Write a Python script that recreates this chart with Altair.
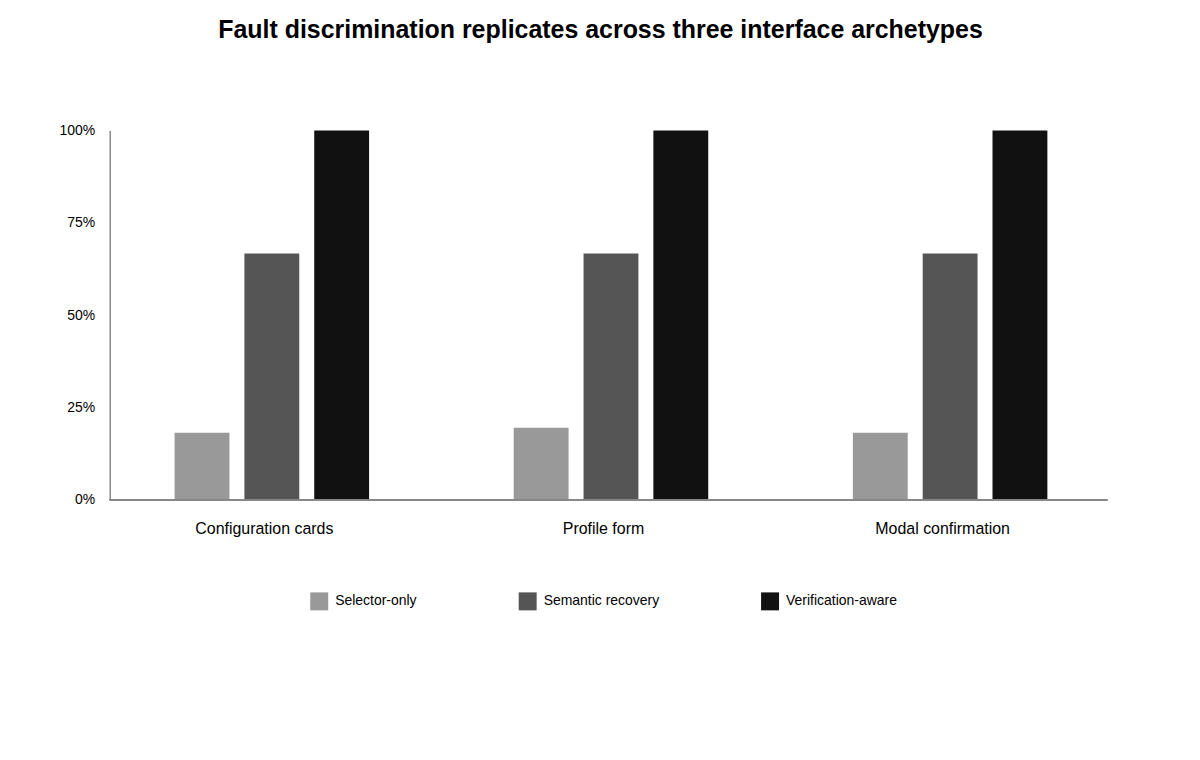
import pandas as pd
import altair as alt

# values
interfaces = ["Configuration cards", "Profile form", "Modal confirmation"]
series = ["Selector-only", "Semantic recovery", "Verification-aware"]
selector_only = [0.181, 0.195, 0.181]
semantic_recovery = [0.667, 0.667, 0.667]
verification_aware = [1.0, 1.0, 1.0]
y_ticks = [0, 0.25, 0.5, 0.75, 1.0]
shades = ["#999999", "#555555", "#111111"]

rows = []
for name, vals in zip(series, [selector_only, semantic_recovery, verification_aware]):
    for iface, v in zip(interfaces, vals):
        rows.append({"Interface": iface, "Method": name, "Rate": v})
df = pd.DataFrame(rows)

font = "Liberation Sans"

bars = alt.Chart(df).mark_bar(width=55).encode(
    x=alt.X(
        "Interface:N",
        sort=interfaces,
        title=None,
        scale=alt.Scale(paddingInner=0, paddingOuter=0),
        axis=alt.Axis(domain=False, ticks=False, labelAngle=0, labelFontSize=16,
                      labelColor="#000", labelPadding=21, labelFont=font),
    ),
    xOffset=alt.XOffset(
        "Method:N",
        sort=series,
        scale=alt.Scale(paddingInner=0.1429, paddingOuter=1, align=0.5536),
    ),
    y=alt.Y(
        "Rate:Q",
        title=None,
        scale=alt.Scale(domain=[0, 1]),
        axis=alt.Axis(values=y_ticks, format=".0%", grid=False, ticks=False,
                      domainColor="#888888", domainWidth=1.5, offset=-15,
                      labelPadding=15, labelFontSize=14, labelColor="#000",
                      labelFont=font),
    ),
    color=alt.Color(
        "Method:N",
        sort=series,
        scale=alt.Scale(domain=series, range=shades),
        legend=alt.Legend(
            title=None, orient="none", direction="horizontal",
            legendX=216, legendY=463, symbolType="square", symbolSize=324,
            symbolStrokeWidth=0, labelFontSize=14, labelFont=font,
            labelColor="#000", labelOffset=7, columnPadding=102,
        ),
    ),
)

# x axis baseline, spanning from the y axis to the right edge
baseline = alt.Chart(df).mark_rule(color="#888888", strokeWidth=1.5).encode(
    y=alt.datum(0), x=alt.value(15), x2=alt.value(1015)
)

chart = alt.layer(bars, baseline).properties(
    width=1020,
    height=370,
    title=alt.TitleParams(
        "Fault discrimination replicates across three interface archetypes",
        fontSize=25, font=font, fontWeight="bold", color="#000",
        anchor="middle", offset=81, dx=-3,
    ),
    autosize=alt.AutoSizeParams(type="none"),
    padding={"left": 87, "top": 122, "right": 80, "bottom": 200},
).configure_view(stroke=None)

chart.save("out.html", embed_options={"renderer": "svg", "actions": False})
